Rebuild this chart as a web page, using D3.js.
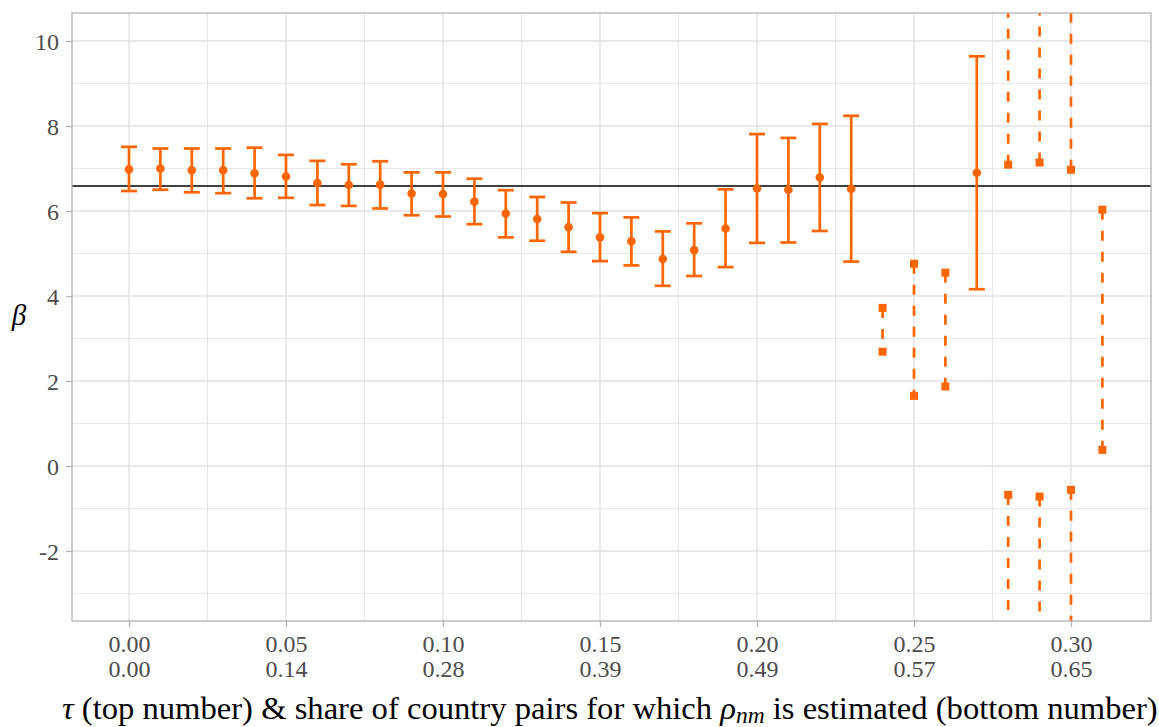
<!DOCTYPE html>
<html>
<head>
<meta charset="utf-8">
<script src="https://cdn.jsdelivr.net/npm/d3@7/dist/d3.min.js"></script>
<style>
  html, body { margin: 0; padding: 0; background: #fff; }
  svg { display: block; }
</style>
</head>
<body>
<svg id="chart" width="1159" height="727"></svg>
<script>
// ---- Data ----
const tau = [0.00,0.01,0.02,0.03,0.04,0.05,0.06,0.07,0.08,0.09,0.10,0.11,0.12,0.13,0.14,0.15,
             0.16,0.17,0.18,0.19,0.20,0.21,0.22,0.23,0.24,0.25,0.26,0.27,0.28,0.29,0.30,0.31];
// point estimate (null where no estimate is shown)
const estimate = [6.98,7.00,6.96,6.96,6.89,6.81,6.66,6.61,6.62,6.41,6.40,6.22,5.94,5.81,5.62,5.38,
                  5.29,4.87,5.08,5.59,6.53,6.50,6.79,6.52,null,null,null,6.90,null,null,null,null];
const ciLow  = [6.47,6.50,6.44,6.42,6.30,6.31,6.14,6.12,6.06,5.90,5.87,5.69,5.38,5.30,5.04,4.82,
                4.72,4.24,4.47,4.68,5.25,5.26,5.53,4.81,2.69,1.65,1.87,4.16,-0.68,-0.72,-0.56,0.38];
const ciHigh = [7.51,7.47,7.47,7.47,7.49,7.32,7.18,7.10,7.17,6.91,6.91,6.76,6.49,6.33,6.20,5.95,
                5.85,5.52,5.71,6.51,7.81,7.72,8.05,8.24,3.72,4.76,4.55,9.64,7.09,7.14,6.97,6.03];
// "bar": regular confidence interval; "set": bounded confidence set; "outer": (-inf, low] U [high, inf)
const ciType = ["bar","bar","bar","bar","bar","bar","bar","bar","bar","bar","bar","bar","bar","bar","bar","bar",
                "bar","bar","bar","bar","bar","bar","bar","bar","set","set","set","bar","outer","outer","outer","set"];
const refLine = 6.59;
const xTicks = [0.00,0.05,0.10,0.15,0.20,0.25,0.30];
const xTickTop = ["0.00","0.05","0.10","0.15","0.20","0.25","0.30"];
const xTickBottom = ["0.00","0.14","0.28","0.39","0.49","0.57","0.65"];
const yTicks = [-2,0,2,4,6,8,10];
const yTickLabels = ["-2","0","2","4","6","8","10"];
const xMinor = [0.025,0.075,0.125,0.175,0.225,0.275];
const yMinor = [-3,-1,1,3,5,7,9];

// ---- Layout ----
const FONT = "Liberation Serif";
const svg = d3.select("#chart");
const panel = {left: 72, right: 1151, top: 13, bottom: 621};
const x = d3.scaleLinear().domain([-0.01815, 0.32548]).range([panel.left, panel.right]);
const y = d3.scaleLinear().domain([-3.647, 10.659]).range([panel.bottom, panel.top]);
const orange = "#ff6600";
const grid = "#e2e2e2";

const rows = tau.map((t, i) => ({t, est: estimate[i], lo: ciLow[i], hi: ciHigh[i], type: ciType[i]}));

function serif(sel, size) {
  return sel.attr("font-family", FONT).style("font-family", `"${FONT}"`)
    .attr("font-size", size).style("font-size", size + "px");
}

// grid
const g = svg.append("g");
g.selectAll(".ymin").data(yMinor).join("line")
  .attr("x1", panel.left).attr("x2", panel.right)
  .attr("y1", d => y(d)).attr("y2", d => y(d))
  .attr("stroke", grid).attr("stroke-width", 0.8);
g.selectAll(".xmin").data(xMinor).join("line")
  .attr("y1", panel.top).attr("y2", panel.bottom)
  .attr("x1", d => x(d)).attr("x2", d => x(d))
  .attr("stroke", grid).attr("stroke-width", 0.8);
g.selectAll(".ymaj").data(yTicks).join("line")
  .attr("x1", panel.left).attr("x2", panel.right)
  .attr("y1", d => y(d)).attr("y2", d => y(d))
  .attr("stroke", grid).attr("stroke-width", 1.4);
g.selectAll(".xmaj").data(xTicks).join("line")
  .attr("y1", panel.top).attr("y2", panel.bottom)
  .attr("x1", d => x(d)).attr("x2", d => x(d))
  .attr("stroke", grid).attr("stroke-width", 1.4);

// clip
svg.append("clipPath").attr("id", "clip").append("rect")
  .attr("x", panel.left).attr("y", panel.top)
  .attr("width", panel.right - panel.left).attr("height", panel.bottom - panel.top);
const plot = svg.append("g").attr("clip-path", "url(#clip)");

// reference line
plot.append("line")
  .attr("x1", panel.left).attr("x2", panel.right)
  .attr("y1", y(refLine)).attr("y2", y(refLine))
  .attr("stroke", "#000").attr("stroke-width", 1.4);

const capHalf = 8;
const lw = 2.7;
const dash = "10,11";

// regular error bars
const bars = rows.filter(d => d.type === "bar");
plot.selectAll(".eb").data(bars).join("line")
  .attr("x1", d => x(d.t)).attr("x2", d => x(d.t))
  .attr("y1", d => y(d.lo)).attr("y2", d => y(d.hi))
  .attr("stroke", orange).attr("stroke-width", lw);
plot.selectAll(".capHi").data(bars).join("line")
  .attr("x1", d => x(d.t) - capHalf).attr("x2", d => x(d.t) + capHalf)
  .attr("y1", d => y(d.hi)).attr("y2", d => y(d.hi))
  .attr("stroke", orange).attr("stroke-width", lw);
plot.selectAll(".capLo").data(bars).join("line")
  .attr("x1", d => x(d.t) - capHalf).attr("x2", d => x(d.t) + capHalf)
  .attr("y1", d => y(d.lo)).attr("y2", d => y(d.lo))
  .attr("stroke", orange).attr("stroke-width", lw);
plot.selectAll(".pt").data(bars.filter(d => d.est !== null)).join("circle")
  .attr("cx", d => x(d.t)).attr("cy", d => y(d.est)).attr("r", 4.3)
  .attr("fill", orange);

// bounded sets: dashed between squares
const sets = rows.filter(d => d.type === "set");
plot.selectAll(".setl").data(sets).join("line")
  .attr("x1", d => x(d.t)).attr("x2", d => x(d.t))
  .attr("y1", d => y(d.hi)).attr("y2", d => y(d.lo))
  .attr("stroke", orange).attr("stroke-width", lw).attr("stroke-dasharray", dash);

// outer sets: dashed from squares outward
const outer = rows.filter(d => d.type === "outer");
plot.selectAll(".outHi").data(outer).join("line")
  .attr("x1", d => x(d.t)).attr("x2", d => x(d.t))
  .attr("y1", d => y(d.hi)).attr("y2", y.range()[1] - 5)
  .attr("stroke", orange).attr("stroke-width", lw).attr("stroke-dasharray", dash);
plot.selectAll(".outLo").data(outer).join("line")
  .attr("x1", d => x(d.t)).attr("x2", d => x(d.t))
  .attr("y1", d => y(d.lo)).attr("y2", y.range()[0] + 5)
  .attr("stroke", orange).attr("stroke-width", lw).attr("stroke-dasharray", dash);

// squares
const sq = 8;
const sqData = rows.filter(d => d.type !== "bar").flatMap(d => [{t: d.t, v: d.lo}, {t: d.t, v: d.hi}]);
plot.selectAll(".sq").data(sqData).join("rect")
  .attr("x", d => x(d.t) - sq / 2).attr("y", d => y(d.v) - sq / 2)
  .attr("width", sq).attr("height", sq).attr("fill", orange);

// panel border
svg.append("rect")
  .attr("x", panel.left).attr("y", panel.top)
  .attr("width", panel.right - panel.left).attr("height", panel.bottom - panel.top)
  .attr("fill", "none").attr("stroke", "#b3b3b3").attr("stroke-width", 1.3);

// axes
const tickCol = "#b3b3b3";
const textCol = "#4d4d4d";
const xAxis = svg.append("g").attr("transform", `translate(0,${panel.bottom})`)
  .call(d3.axisBottom(x).tickValues(xTicks).tickSize(6).tickFormat(""));
serif(xAxis, 24);
xAxis.select(".domain").remove();
xAxis.selectAll(".tick line").attr("stroke", tickCol).attr("stroke-width", 1.3);
xAxis.selectAll(".tick text").remove();
xAxis.selectAll(".tick").each(function(d, i) {
  const t = serif(d3.select(this).append("text"), 24)
    .attr("fill", textCol).attr("text-anchor", "middle");
  t.append("tspan").attr("x", 0).attr("y", 31).text(xTickTop[i]);
  t.append("tspan").attr("x", 0).attr("y", 56).text(xTickBottom[i]);
});

const yAxis = svg.append("g").attr("transform", `translate(${panel.left},0)`)
  .call(d3.axisLeft(y).tickValues(yTicks).tickSize(6).tickFormat((d, i) => yTickLabels[i]));
serif(yAxis, 24);
yAxis.select(".domain").remove();
yAxis.selectAll(".tick line").attr("stroke", tickCol).attr("stroke-width", 1.3);
serif(yAxis.selectAll(".tick text"), 24)
  .attr("fill", textCol).attr("x", -13).attr("dy", "0.34em");

// y title
serif(svg.append("text"), 29).attr("x", 19).attr("y", 325)
  .attr("text-anchor", "middle").style("font-style", "italic")
  .attr("fill", "#000").text("β");

// x title
const xt = serif(svg.append("text"), 26).attr("x", 62).attr("y", 719).attr("fill", "#000");
xt.append("tspan").style("font-style", "italic").text("τ");
xt.append("tspan").text(" (top number) & share of country pairs for which ");
xt.append("tspan").style("font-style", "italic").text("ρ");
xt.append("tspan").style("font-style", "italic").style("font-size", "0.72em").attr("dy", 4).text("nm");
xt.append("tspan").attr("dy", -4).text(" is estimated (bottom number)");
const w = xt.node().getComputedTextLength();
const fs = 26 * 1096 / w;
xt.attr("font-size", fs).style("font-size", fs + "px");
</script>
</body>
</html>
